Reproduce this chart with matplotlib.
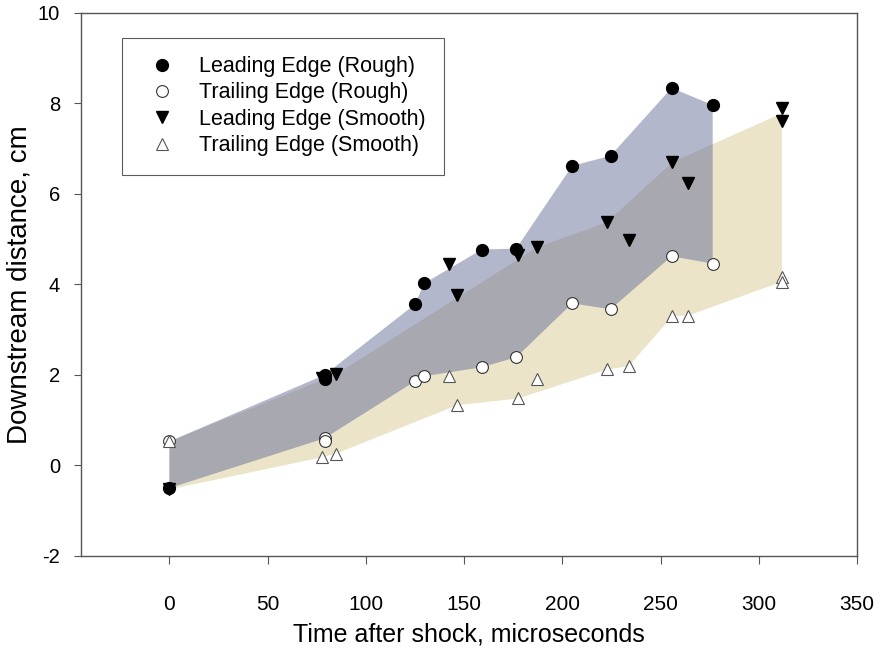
import matplotlib
matplotlib.use("Agg")
import matplotlib.pyplot as plt

plt.rcParams['font.family'] = ['Liberation Sans', 'DejaVu Sans']

# front positions, rough surface (time in microseconds, distance in cm)
t_rough = [0, 79, 79, 125, 129.6, 159, 176.5, 205, 224.5, 255.6, 276.5]
lead_rough = [-0.5, 2.0, 1.9, 3.56, 4.02, 4.77, 4.79, 6.62, 6.84, 8.34, 7.96]
trail_rough = [0.53, 0.6, 0.55, 1.86, 1.97, 2.17, 2.39, 3.58, 3.45, 4.62, 4.46]

# front positions, smooth surface
t_smooth = [0, 77.6, 84.7, 142.3, 146.4, 177.6, 187.2, 222.6, 233.7, 256, 264, 311.7, 311.7]
lead_smooth = [-0.53, 1.94, 2.01, 4.46, 3.76, 4.65, 4.82, 5.37, 4.97, 6.70, 6.24, 7.9, 7.6]
trail_smooth = [0.53, 0.18, 0.26, 1.97, 1.33, 1.48, 1.9, 2.12, 2.19, 3.3, 3.31, 4.16, 4.06]

# outline of the shaded rough-surface band
rband_t = [0, 79, 125, 129.6, 159, 176.5, 205, 224.5, 255.6, 276.5]
rband_hi = [0.53, 2.0, 3.56, 4.02, 4.77, 4.79, 6.62, 6.84, 8.34, 7.96]
rband_lo = [-0.5, 0.6, 1.86, 1.97, 2.17, 2.39, 3.58, 3.45, 4.62, 4.46]

# outline of the shaded smooth-surface band
sband_t_hi = [0, 84.7, 187.2, 222.6, 256, 311.7]
sband_hi = [0.53, 2.01, 4.82, 5.37, 6.70, 7.78]
sband_t_lo = [0, 77.6, 84.7, 146.4, 177.6, 222.6, 233.7, 256, 264, 311.7]
sband_lo = [-0.53, 0.18, 0.26, 1.33, 1.48, 2.12, 2.19, 3.3, 3.31, 4.06]

xticks = [0, 50, 100, 150, 200, 250, 300, 350]
yticks = [-2, 0, 2, 4, 6, 8, 10]

fig = plt.figure(figsize=(8.8, 6.49), dpi=100)
ax = fig.add_axes([0.092, 0.1433, 0.882, 0.837])

# smooth band (opaque) then rough band on top, half transparent
ax.fill(sband_t_hi + sband_t_lo[::-1], sband_hi + sband_lo[::-1],
        color='#ebe4c8', lw=0, zorder=1)
ax.fill(rband_t + rband_t[::-1], rband_hi + rband_lo[::-1],
        color='#66709a', alpha=0.5, lw=0, zorder=2)

ax.plot(t_rough, lead_rough, 'o', ms=8.5, mfc='black', mec='black',
        ls='none', label='Leading Edge (Rough)', zorder=5)
ax.plot(t_rough, trail_rough, 'o', ms=8.5, mfc='white', mec='#333333', mew=0.8,
        ls='none', label='Trailing Edge (Rough)', zorder=5)
ax.plot(t_smooth, lead_smooth, 'v', ms=9, mfc='black', mec='black',
        ls='none', label='Leading Edge (Smooth)', zorder=5)
ax.plot(t_smooth, trail_smooth, '^', ms=9, mfc='white', mec='#555555', mew=0.8,
        ls='none', label='Trailing Edge (Smooth)', zorder=5)

ax.set_xlim(-45, 350)
ax.set_ylim(-2, 10)
ax.set_xticks(xticks)
ax.set_yticks(yticks)
ax.set_xticklabels([str(v) for v in xticks], fontsize=15)
ax.set_yticklabels([str(v) for v in yticks], fontsize=14.5)
ax.tick_params(axis='x', direction='out', length=6, width=0.8, color='#555555', pad=22)
ax.tick_params(axis='y', direction='out', length=5, width=0.8, color='#555555', pad=10)
for s in ax.spines.values():
    s.set_color('#555555')
    s.set_linewidth(1.0)

ax.set_xlabel('Time after shock, microseconds', fontsize=18, labelpad=6)
ax.set_ylabel('Downstream distance, cm', fontsize=20, labelpad=4)

leg = ax.legend(loc='upper left', bbox_to_anchor=(0.0528, 0.954), borderaxespad=0,
                fontsize=15.5, frameon=True, fancybox=False, edgecolor='#333333',
                borderpad=0.85, labelspacing=0.25, handlelength=2.0, handletextpad=0.73)
leg.get_frame().set_linewidth(0.8)

fig.savefig('out.png', dpi=100)
